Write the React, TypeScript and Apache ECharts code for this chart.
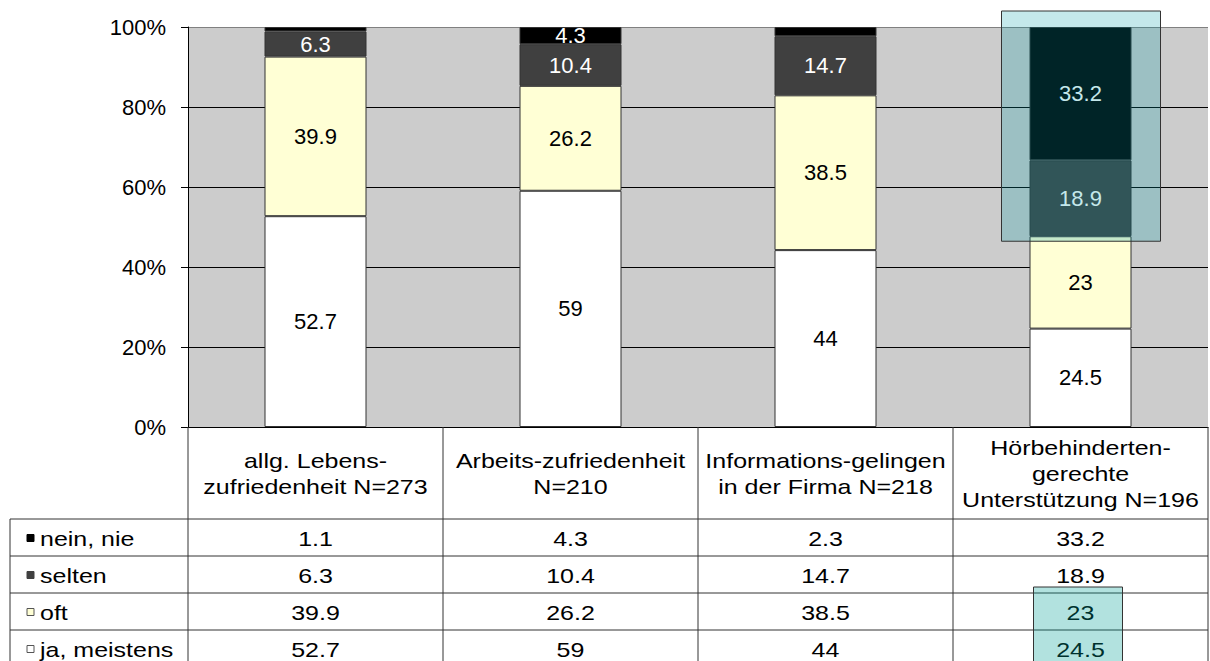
import React, { useEffect, useRef } from "react";
import * as echarts from "echarts";

const categories = [
  "allg. Lebens-\nzufriedenheit N=273",
  "Arbeits-zufriedenheit\nN=210",
  "Informations-gelingen\nin der Firma N=218",
  "Hörbehinderten-\ngerechte\nUnterstützung N=196",
];
const neinNie = [1.1, 4.3, 2.3, 33.2];
const selten = [6.3, 10.4, 14.7, 18.9];
const oft = [39.9, 26.2, 38.5, 23];
const jaMeistens = [52.7, 59, 44, 24.5];
const seriesNames = ["nein, nie", "selten", "oft", "ja, meistens"];
const seriesColors = ["#000000", "#404040", "#ffffd5", "#ffffff"];
const labelColors = ["#ffffff", "#ffffff", "#000000", "#000000"];
const yTickLabelFormat = "{value}%";

const FONT = 'Arial, "Liberation Sans", sans-serif';
const GRID_LEFT = 188;
const GRID_TOP = 27;
const GRID_W = 1020;
const GRID_H = 400;
const HEADER_BOTTOM = 519;
const ROW_H = 37;
const TABLE_LEFT = 10;
const SX = 1.19;
const TFONT = 21;

export default function App() {
  const ref = useRef<HTMLDivElement>(null);
  useEffect(() => {
    if (!ref.current) return;
    const chart = echarts.init(ref.current, undefined, { renderer: "svg" });
    const raw = [neinNie, selten, oft, jaMeistens];
    const totals = categories.map((_, i) => raw.reduce((s, a) => s + a[i], 0));
    const norm = (arr: number[]) => arr.map((v, i) => (v / totals[i]) * 100);

    // bottom to top: ja, oft, selten, nein
    const order = [3, 2, 1, 0];
    const series = order.map((k) => ({
      name: seriesNames[k],
      type: "bar",
      stack: "total",
      barWidth: 102,
      data: norm(raw[k]),
      itemStyle: { color: seriesColors[k], borderColor: "#333333", borderWidth: 1 },
      label: {
        show: true,
        position: "inside",
        color: labelColors[k],
        fontSize: 22,
        fontFamily: FONT,
        formatter: (p: any) => (raw[k][p.dataIndex] >= 4 ? String(raw[k][p.dataIndex]) : ""),
      },
    }));

    chart.setOption({
      animation: false,
      textStyle: { fontFamily: FONT },
      grid: {
        left: GRID_LEFT,
        top: GRID_TOP,
        width: GRID_W,
        height: GRID_H,
        show: true,
        backgroundColor: "#cccccc",
        borderWidth: 0,
      },
      xAxis: {
        type: "category",
        data: categories,
        axisLabel: { show: false },
        axisTick: { show: false },
        axisLine: { show: true, lineStyle: { color: "#000", width: 1 } },
        splitLine: { show: false },
      },
      yAxis: {
        type: "value",
        min: 0,
        max: 100,
        interval: 20,
        axisLabel: { formatter: yTickLabelFormat, fontSize: 22, color: "#000", margin: 22, fontFamily: FONT },
        axisLine: { show: true, lineStyle: { color: "#000", width: 1 } },
        axisTick: { show: true, length: 7, lineStyle: { color: "#000" } },
        splitLine: {
          show: true,
          lineStyle: { color: ["#000", "#000", "#000", "#000", "#000", "#808080"], width: 1 },
        },
      },
      series,
    });

    // Build table + annotations from the library's scales
    const colW = GRID_W / categories.length;
    const colX = (i: number) => GRID_LEFT + i * colW;
    const tableBottom = HEADER_BOTTOM + ROW_H * seriesNames.length;
    const lineStyle = { stroke: "#333333", lineWidth: 1 };
    const els: any[] = [];
    // vertical lines
    for (let i = 0; i <= categories.length; i++) {
      els.push({ type: "line", z: 10, shape: { x1: colX(i), y1: GRID_TOP + GRID_H, x2: colX(i), y2: tableBottom }, style: lineStyle });
    }
    els.push({ type: "line", z: 10, shape: { x1: TABLE_LEFT, y1: HEADER_BOTTOM, x2: TABLE_LEFT, y2: tableBottom }, style: lineStyle });
    for (let r = 0; r <= seriesNames.length; r++) {
      const y = HEADER_BOTTOM + r * ROW_H;
      els.push({ type: "line", z: 10, shape: { x1: TABLE_LEFT, y1: y, x2: colX(categories.length), y2: y }, style: lineStyle });
    }
    // header texts
    categories.forEach((c, i) => {
      els.push({
        type: "text",
        z: 11,
        x: colX(i) + colW / 2,
        y: (GRID_TOP + GRID_H + HEADER_BOTTOM) / 2 + 1,
        scaleX: SX,
        style: {
          text: c,
          fill: "#000",
          fontSize: TFONT,
          fontFamily: FONT,
          lineHeight: 26,
          align: "center",
          verticalAlign: "middle",
          textAlign: "center",
          textVerticalAlign: "middle",
        },
      });
    });
    // rows
    seriesNames.forEach((name, r) => {
      const cy = HEADER_BOTTOM + r * ROW_H + ROW_H / 2 + 1;
      els.push({
        type: "rect",
        z: 11,
        shape: { x: 27, y: cy - 4, width: 7, height: 7 },
        style: { fill: seriesColors[r], stroke: r < 2 ? seriesColors[r] : "#555555", lineWidth: 1 },
      });
      els.push({
        type: "text",
        z: 11,
        x: 40,
        y: cy,
        scaleX: SX,
        style: {
          text: name,
          fill: "#000",
          fontSize: TFONT,
          fontFamily: FONT,
          align: "left",
          verticalAlign: "middle",
          textAlign: "left",
          textVerticalAlign: "middle",
        },
      });
      raw[r].forEach((v, i) => {
        els.push({
          type: "text",
          z: 11,
          x: colX(i) + colW / 2,
          y: cy,
          scaleX: SX,
          style: {
            text: String(v),
            fill: "#000",
            fontSize: TFONT,
            fontFamily: FONT,
            align: "center",
            verticalAlign: "middle",
            textAlign: "center",
            textVerticalAlign: "middle",
          },
        });
      });
    });

    // highlight overlay over the last bar's upper part
    const last = categories.length - 1;
    const cx = chart.convertToPixel({ xAxisIndex: 0 }, last) as number;
    const yTop = chart.convertToPixel({ yAxisIndex: 0 }, 100) as number;
    const lowerShare = ((jaMeistens[last] + oft[last]) / totals[last]) * 100;
    const yBottom = chart.convertToPixel({ yAxisIndex: 0 }, lowerShare) as number;
    els.push({
      type: "rect",
      z: 100,
      shape: { x: cx - 79, y: yTop - 16, width: 159, height: yBottom + 5 - (yTop - 16) },
      style: { fill: "rgba(0,154,167,0.23)", stroke: "#333333", lineWidth: 1 },
    });
    // highlight cells in the table (oft + ja, meistens of last column)
    els.push({
      type: "rect",
      z: 100,
      shape: { x: cx - 47, y: HEADER_BOTTOM + 2 * ROW_H - 6, width: 89, height: 2 * ROW_H + 10 },
      style: { fill: "rgba(0,160,150,0.3)", stroke: "#333333", lineWidth: 1 },
    });

    chart.setOption({ graphic: { elements: els } });
    return () => chart.dispose();
  }, []);
  return (
    <div
      ref={ref}
      style={{ position: "fixed", left: 0, top: 0, width: 1210, height: 661, background: "#ffffff" }}
    />
  );
}
